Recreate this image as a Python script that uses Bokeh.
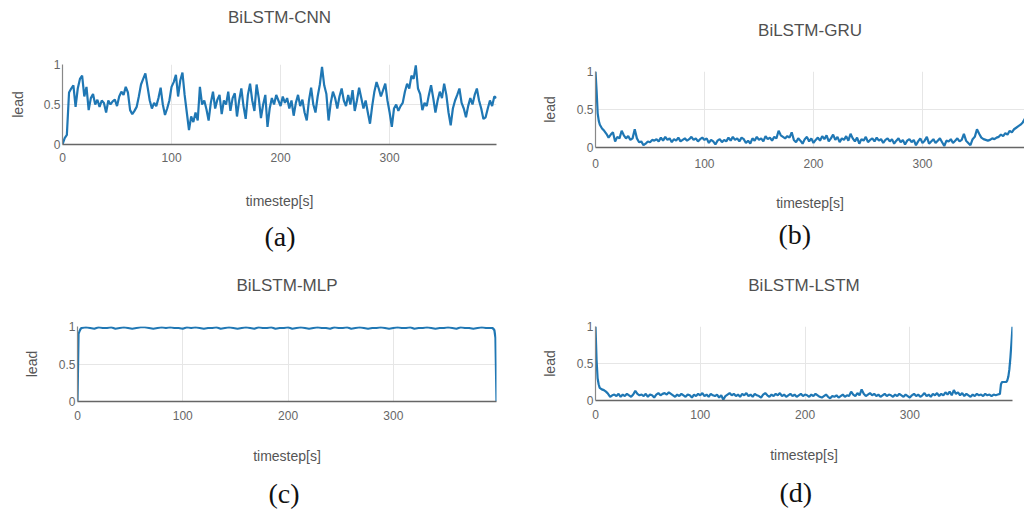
from bokeh.plotting import figure
from bokeh.layouts import column, row
from bokeh.models import Range1d, FixedTicker, NumeralTickFormatter, LinearAxis, Title
from bokeh.embed import file_html
from bokeh.resources import INLINE

titles = ["BiLSTM-CNN", "BiLSTM-GRU", "BiLSTM-MLP", "BiLSTM-LSTM"]
captions = ["(a)", "(b)", "(c)", "(d)"]
x_ticks = [0, 100, 200, 300]
y_ticks = [0, 0.5, 1]
x_label = "timestep[s]"
y_label = "lead"

# ---- BiLSTM-CNN ----
cnn_t = list(range(0, 399, 2))
cnn_v = [
    0.0, 0.08, 0.12, 0.65, 0.70, 0.74, 0.47, 0.70, 0.82, 0.86,
    0.60, 0.72, 0.43, 0.58, 0.63, 0.50, 0.56, 0.47, 0.55, 0.52,
    0.40, 0.55, 0.50, 0.54, 0.56, 0.48, 0.60, 0.66, 0.62, 0.72,
    0.65, 0.43, 0.38, 0.42, 0.47, 0.60, 0.75, 0.82, 0.89, 0.72,
    0.55, 0.45, 0.52, 0.48, 0.58, 0.71, 0.50, 0.37, 0.45, 0.55,
    0.72, 0.78, 0.87, 0.60, 0.80, 0.90, 0.62, 0.40, 0.18, 0.35,
    0.28, 0.40, 0.30, 0.72, 0.50, 0.55, 0.44, 0.30, 0.52, 0.66,
    0.45, 0.56, 0.62, 0.38, 0.55, 0.50, 0.66, 0.42, 0.58, 0.64,
    0.35, 0.55, 0.70, 0.48, 0.32, 0.62, 0.76, 0.55, 0.42, 0.75,
    0.58, 0.33, 0.50, 0.62, 0.22, 0.45, 0.58, 0.50, 0.62, 0.55,
    0.48, 0.60, 0.52, 0.58, 0.45, 0.55, 0.36, 0.52, 0.62, 0.48,
    0.56, 0.40, 0.30, 0.55, 0.71, 0.50, 0.40, 0.60, 0.75, 0.97,
    0.74, 0.63, 0.30, 0.52, 0.66, 0.58, 0.45, 0.60, 0.70, 0.55,
    0.48, 0.62, 0.50, 0.68, 0.42, 0.55, 0.71, 0.58, 0.45, 0.55,
    0.40, 0.26, 0.48, 0.66, 0.78, 0.70, 0.60, 0.68, 0.76, 0.55,
    0.40, 0.22, 0.45, 0.50, 0.42, 0.48, 0.52, 0.66, 0.76, 0.70,
    0.86, 0.82, 0.99, 0.70, 0.63, 0.43, 0.52, 0.48, 0.62, 0.74,
    0.58, 0.40, 0.55, 0.66, 0.58, 0.76, 0.62, 0.40, 0.24, 0.45,
    0.55, 0.62, 0.70, 0.52, 0.45, 0.34, 0.48, 0.58, 0.50, 0.62,
    0.70, 0.55, 0.45, 0.32, 0.34, 0.45, 0.55, 0.48, 0.60, 0.58,
]

# ---- BiLSTM-GRU ----
gru_t = [0, 1, 2, 3, 4] + list(range(6, 395, 2))
gru_v = [
    1.0, 0.75, 0.45, 0.35, 0.30,
    0.25, 0.22, 0.18, 0.13, 0.17, 0.20, 0.08, 0.14, 0.12, 0.22,
    0.16, 0.12, 0.15, 0.10, 0.12, 0.24, 0.12, 0.07, 0.08, 0.03,
    0.05, 0.08, 0.07, 0.10, 0.09, 0.11, 0.08, 0.13, 0.09, 0.14,
    0.10, 0.12, 0.07, 0.11, 0.09, 0.13, 0.08, 0.10, 0.12, 0.09,
    0.11, 0.14, 0.10, 0.12, 0.08, 0.11, 0.13, 0.10, 0.12, 0.06,
    0.10, 0.08, 0.04, 0.09, 0.11, 0.07, 0.10, 0.08, 0.13, 0.09,
    0.14, 0.10, 0.12, 0.08, 0.13, 0.11, 0.06, 0.09, 0.05, 0.12,
    0.09, 0.14, 0.10, 0.12, 0.08, 0.15, 0.11, 0.13, 0.09, 0.14,
    0.12, 0.22, 0.16, 0.14, 0.12, 0.15, 0.13, 0.20, 0.10, 0.07,
    0.12, 0.09, 0.05, 0.11, 0.14, 0.08, 0.12, 0.06, 0.10, 0.13,
    0.09, 0.15, 0.11, 0.16, 0.08, 0.12, 0.17, 0.10, 0.14, 0.07,
    0.12, 0.10, 0.15, 0.09, 0.18, 0.12, 0.08, 0.13, 0.05, 0.11,
    0.09, 0.14, 0.07, 0.10, 0.12, 0.08, 0.13, 0.09, 0.11, 0.06,
    0.10, 0.12, 0.08, 0.11, 0.05, 0.09, 0.12, 0.07, 0.10, 0.04,
    0.09, 0.11, 0.07, 0.10, 0.03, 0.08, 0.12, 0.06, 0.09, 0.14,
    0.05, 0.08, 0.11, 0.06, 0.09, 0.12, 0.07, 0.02, 0.09, 0.08,
    0.11, 0.06, 0.09, 0.12, 0.08, 0.10, 0.18, 0.09, 0.06, 0.03,
    0.11, 0.14, 0.24, 0.18, 0.13, 0.11, 0.10, 0.09, 0.10, 0.12,
    0.11, 0.13, 0.14, 0.17, 0.15, 0.19, 0.17, 0.22, 0.20, 0.24,
    0.26, 0.28, 0.30, 0.33, 0.38,
]

# ---- BiLSTM-MLP ----
mlp_t = [0, 1, 2, 3] + list(range(4, 393, 4)) + [394, 395, 396, 397, 398]
mlp_v = [
    0.0, 0.90, 0.94, 0.97,
    0.98, 0.99, 0.98, 0.97, 0.99, 0.98, 0.98, 0.99, 0.97, 0.98,
    0.99, 0.98, 0.97, 0.98, 0.99, 0.99, 0.98, 0.97, 0.98, 0.99,
    0.98, 0.99, 0.98, 0.98, 0.97, 0.99, 0.98, 0.99, 0.98, 0.97,
    0.98, 0.98, 0.99, 0.97, 0.98, 0.99, 0.98, 0.97, 0.98, 0.99,
    0.98, 0.97, 0.99, 0.98, 0.98, 0.99, 0.97, 0.98, 0.98, 0.99,
    0.97, 0.98, 0.99, 0.98, 0.97, 0.98, 0.99, 0.98, 0.98, 0.97,
    0.99, 0.98, 0.98, 0.99, 0.97, 0.98, 0.99, 0.98, 0.97, 0.98,
    0.98, 0.99, 0.98, 0.97, 0.98, 0.99, 0.98, 0.98, 0.99, 0.97,
    0.98, 0.98, 0.99, 0.98, 0.97, 0.98, 0.98, 0.99, 0.98, 0.97,
    0.99, 0.98, 0.98, 0.97, 0.98, 0.99, 0.98, 0.98,
    0.98, 0.97, 0.95, 0.85, 0.0,
]

# ---- BiLSTM-LSTM ----
lstm_t = [0, 1, 2, 3, 4] + list(range(6, 387, 2)) + [387, 388, 390, 392, 393, 394, 395, 396, 397, 398]
lstm_v = [
    1.0, 0.55, 0.30, 0.22, 0.17,
    0.15, 0.14, 0.12, 0.09, 0.05, 0.07, 0.08, 0.06, 0.09, 0.05,
    0.08, 0.06, 0.09, 0.07, 0.05, 0.08, 0.13, 0.09, 0.07, 0.08,
    0.06, 0.09, 0.05, 0.08, 0.07, 0.04, 0.08, 0.10, 0.07, 0.09,
    0.10, 0.08, 0.11, 0.09, 0.07, 0.05, 0.08, 0.06, 0.09, 0.07,
    0.05, 0.08, 0.07, 0.04, 0.08, 0.06, 0.09, 0.07, 0.10, 0.06,
    0.08, 0.05, 0.09, 0.07, 0.06, 0.08, 0.04, 0.07, 0.01, 0.06,
    0.08, 0.10, 0.07, 0.09, 0.06, 0.08, 0.05, 0.09, 0.07, 0.10,
    0.06, 0.08, 0.05, 0.09, 0.07, 0.06, 0.04, 0.08, 0.10, 0.07,
    0.05, 0.08, 0.06, 0.09, 0.07, 0.10, 0.06, 0.08, 0.05, 0.07,
    0.09, 0.06, 0.08, 0.05, 0.07, 0.09, 0.06, 0.08, 0.07, 0.05,
    0.08, 0.06, 0.09, 0.07, 0.05, 0.04, 0.06, 0.08, 0.05, 0.03,
    0.06, 0.05, 0.07, 0.04, 0.06, 0.08, 0.05, 0.07, 0.06, 0.12,
    0.08, 0.06, 0.10, 0.07, 0.15, 0.09, 0.06, 0.08, 0.10, 0.07,
    0.09, 0.06, 0.08, 0.05, 0.07, 0.09, 0.06, 0.08, 0.07, 0.05,
    0.08, 0.06, 0.09, 0.07, 0.05, 0.08, 0.06, 0.04, 0.07, 0.09,
    0.06, 0.08, 0.05, 0.07, 0.10, 0.06, 0.08, 0.05, 0.09, 0.07,
    0.10, 0.06, 0.09, 0.07, 0.11, 0.08, 0.12, 0.07, 0.14, 0.09,
    0.11, 0.07, 0.10, 0.06, 0.09, 0.07, 0.05, 0.08, 0.06, 0.09,
    0.07, 0.08, 0.06, 0.09, 0.07, 0.08, 0.06, 0.08, 0.07, 0.08,
    0.09,
    0.22, 0.25, 0.25, 0.25, 0.27, 0.32, 0.42, 0.58, 0.78, 1.0,
]

LINE = "#1f77b4"
TXT = "#555555"
SANS = "Liberation Sans"
SERIF = "Liberation Serif"
W, H = 512, 255


def text_axis(label, standoff, font, size, color):
    return LinearAxis(ticker=FixedTicker(ticks=[], minor_ticks=[]),
                      axis_label=label, axis_label_standoff=standoff,
                      axis_label_text_font=font, axis_label_text_font_size=size,
                      axis_label_text_font_style="normal",
                      axis_label_text_color=color,
                      axis_line_color=None, major_tick_line_color=None,
                      minor_tick_line_color=None, major_tick_out=0,
                      major_tick_in=0, minor_tick_out=0, minor_tick_in=0,
                      major_label_standoff=0, major_label_text_font_size="0px")


def panel(ts, vs, title, caption, left, fw, top, fh, x_end,
          lab_standoff, ylab_standoff, xlab_standoff,
          title_standoff, gap, cap_offset):
    n = min(len(ts), len(vs))
    p = figure(width=W, height=H, output_backend="svg", toolbar_location=None,
               title=None,
               x_range=Range1d(0, x_end), y_range=Range1d(0, 1),
               min_border_left=left, min_border_right=W - left - fw,
               min_border_top=top, min_border_bottom=H - top - fh,
               background_fill_color="white", border_fill_color="white")
    p.frame_align = False
    p.outline_line_color = None

    p.line(ts[:n], vs[:n], line_color=LINE, line_width=2.2)

    p.xaxis.ticker = FixedTicker(ticks=x_ticks)
    p.yaxis.ticker = FixedTicker(ticks=y_ticks)
    p.yaxis.formatter = NumeralTickFormatter(format="0.[0]")
    for ax in (p.xaxis, p.yaxis):
        ax.major_tick_line_color = None
        ax.minor_tick_line_color = None
        ax.major_tick_out = 0
        ax.major_tick_in = 0
        ax.major_label_text_font = SANS
        ax.major_label_text_font_size = "12px"
        ax.major_label_text_color = "#666666"
        ax.axis_label_text_font = SANS
        ax.axis_label_text_font_size = "14px"
        ax.axis_label_text_font_style = "normal"
        ax.axis_label_text_color = TXT
    p.xaxis.axis_line_color = "#666666"
    p.xaxis.axis_line_width = 1.5
    p.yaxis.axis_line_color = "#888888"
    p.yaxis.axis_line_width = 1.2
    p.xaxis.axis_label = x_label
    p.yaxis.axis_label = y_label
    p.xaxis.major_label_standoff = lab_standoff
    p.yaxis.major_label_standoff = 2
    p.yaxis.axis_label_standoff = ylab_standoff
    p.xaxis.axis_label_standoff = xlab_standoff

    p.xgrid.grid_line_color = "#e6e6e6"
    p.ygrid.grid_line_color = "#e6e6e6"
    p.xgrid.ticker = FixedTicker(ticks=x_ticks)
    p.ygrid.ticker = FixedTicker(ticks=y_ticks)

    # chart title above the frame
    p.add_layout(text_axis(title, title_standoff, SANS, "17px", "#505050"), "above")
    # small blank gap, then the sub-figure caption
    p.add_layout(text_axis(" ", gap, SANS, "1px", "white"), "below")
    p.add_layout(Title(text=caption, text_font=SERIF, text_font_size="28px",
                       text_font_style="normal", text_color="#111111",
                       align="left", offset=cap_offset, vertical_align="top",
                       standoff=0), "below")
    return p


pa = panel(cnn_t, cnn_v, titles[0], captions[0], 62, 434, 64, 80, 398,
           8, 15, 28, 38, 5, 202)
pb = panel(gru_t, gru_v, titles[1], captions[1], 83, 429, 71, 76, 393.6,
           11, 16, 24, 32, 1, 183)
pc = panel(mlp_t, mlp_v, titles[2], captions[2], 77, 419, 71, 75, 398,
           9, 16, 25, 32, 7, 191)
pd = panel(lstm_t, lstm_v, titles[3], captions[3], 83, 417, 71, 74, 398,
           9, 16, 25, 32, 7, 184)

layout = column(row(pa, pb), row(pc, pd))

open("out.html", "w").write(file_html(layout, INLINE))
